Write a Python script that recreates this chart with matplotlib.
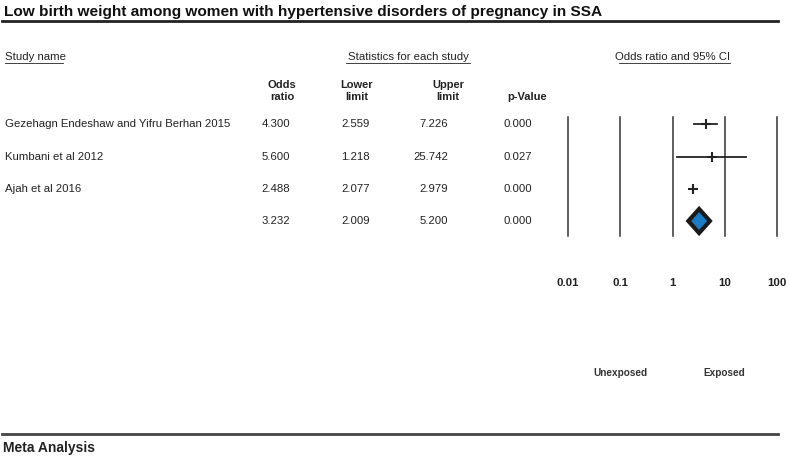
import matplotlib
matplotlib.use("Agg")
import matplotlib.pyplot as plt

plt.rcParams['font.family'] = ['Liberation Sans', 'DejaVu Sans']

# data
studies = ["Gezehagn Endeshaw and Yifru Berhan 2015", "Kumbani et al 2012", "Ajah et al 2016"]
odds = [4.300, 5.600, 2.488]
lower = [2.559, 1.218, 2.077]
upper = [7.226, 25.742, 2.979]
pvals = [0.000, 0.027, 0.000]
pooled = [3.232, 2.009, 5.200, 0.000]  # OR, lower, upper, p
xticks = [0.01, 0.1, 1, 10, 100]
xticklabels = ["0.01", "0.1", "1", "10", "100"]

W, H = 790, 459
fig = plt.figure(figsize=(W / 100, H / 100), dpi=100)
ax = fig.add_axes([0, 0, 1, 1])
ax.set_xlim(0, W)
ax.set_ylim(H, 0)
ax.axis("off")

# title + rules
ax.text(4, 12, "Low birth weight among women with hypertensive disorders of pregnancy in SSA",
        fontsize=11.1, fontweight="bold", va="center", ha="left", color="#111111")
ax.plot([2, 778], [21, 21], color="#222222", lw=2)
ax.plot([2, 778], [434, 434], color="#444444", lw=2)
ax.text(3, 448, "Meta Analysis", fontsize=10, fontweight="bold", va="center", ha="left",
        color="#222222")

# headers
hdr = dict(fontsize=8.2, va="center", color="#222222")
ax.text(5, 57, "Study name", ha="left", **hdr)
ax.plot([5, 63], [63, 63], color="#222222", lw=0.6)
ax.text(408, 57, "Statistics for each study", ha="center", **hdr)
ax.plot([346, 470], [63, 63], color="#222222", lw=0.6)
ax.text(673, 57, "Odds ratio and 95% CI", ha="center", **hdr)
ax.plot([619, 730], [63, 63], color="#222222", lw=0.6)

bh = dict(fontsize=8, va="center", ha="center", fontweight="bold", color="#222222")
ax.text(282, 85, "Odds", **bh)
ax.text(282, 97, "ratio", **bh)
ax.text(357, 85, "Lower", **bh)
ax.text(357, 97, "limit", **bh)
ax.text(448, 85, "Upper", **bh)
ax.text(448, 97, "limit", **bh)
ax.text(527, 97, "p-Value", **bh)

# table rows
row_y = [124, 157, 189, 221]
cell = dict(fontsize=8.2, va="center", color="#222222")
names = studies + [""]
ors = odds + [pooled[0]]
los = lower + [pooled[1]]
his = upper + [pooled[2]]
ps = pvals + [pooled[3]]
for y, n, o, lo, hi, p in zip(row_y, names, ors, los, his, ps):
    ax.text(5, y, n, ha="left", **cell)
    ax.text(290, y, "%.3f" % o, ha="right", **cell)
    ax.text(370, y, "%.3f" % lo, ha="right", **cell)
    ax.text(448, y, "%.3f" % hi, ha="right", **cell)
    ax.text(532, y, "%.3f" % p, ha="right", **cell)

# forest panel
x0, x1 = 568, 777
y0, y1 = 117, 236
fx = fig.add_axes([x0 / W, 1 - y1 / H, (x1 - x0) / W, (y1 - y0) / H])
fx.set_xscale("log")
fx.set_xlim(0.01, 100)
fx.set_ylim(y1, y0)
fx.axis("off")
for t in xticks:
    fx.axvline(t, color="#333333", lw=1.1, clip_on=False)
for t, lab in zip(xticks, xticklabels):
    fx.text(t, 283, lab, ha="center", va="center", fontsize=8.2, fontweight="bold",
            color="#222222", clip_on=False)

for y, o, lo, hi in zip(row_y[:3], odds, lower, upper):
    fx.plot([lo, hi], [y, y], color="#222222", lw=1.3)
    fx.plot([o], [y], marker="+", ms=6.5, mew=1.5, color="#222222")

d = 12
fx.fill([pooled[1], pooled[0], pooled[2], pooled[0]],
        [row_y[3], row_y[3] - d, row_y[3], row_y[3] + d],
        facecolor="#1b7bc4", edgecolor="#1a1a1a", lw=3, joinstyle="miter", zorder=3,
        clip_on=False)

fx.text(0.1, 373, "Unexposed", ha="center", va="center", fontsize=7.2,
        fontweight="bold", color="#333333", clip_on=False)
fx.text(10, 373, "Exposed", ha="center", va="center", fontsize=7.2,
        fontweight="bold", color="#333333", clip_on=False)

fig.savefig("out.png", dpi=100)
